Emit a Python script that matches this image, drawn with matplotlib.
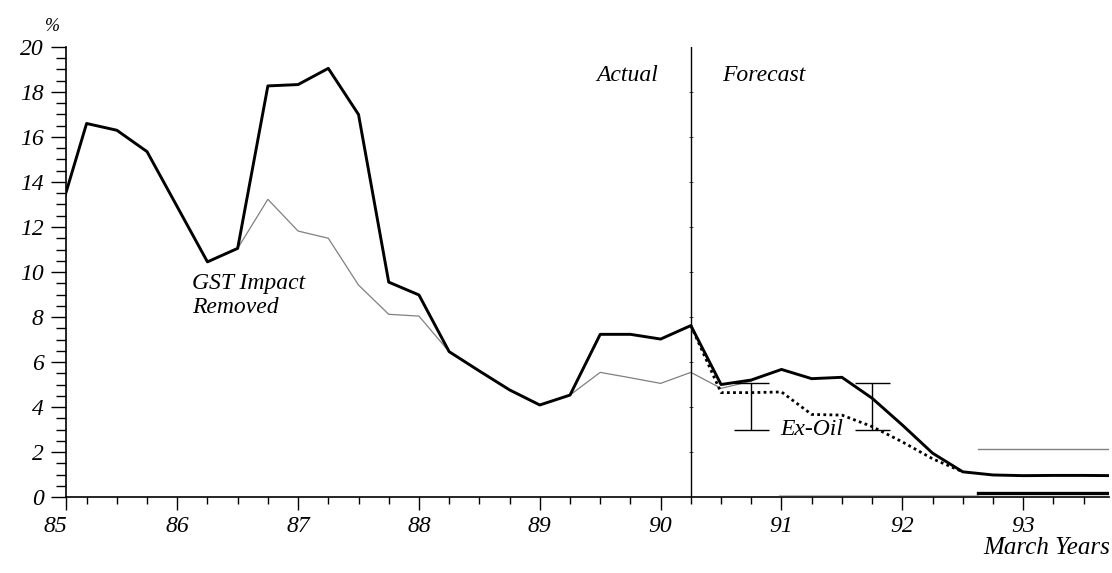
import numpy as np
import matplotlib
matplotlib.use("Agg")
import matplotlib.pyplot as plt
from matplotlib.transforms import ScaledTranslation

plt.rcParams['font.family'] = ['Liberation Serif', 'DejaVu Serif']
plt.rcParams['font.style'] = 'italic'

# quarterly points, March years
quarters = [85.0, 85.25, 85.5, 85.75, 86.0, 86.25, 86.5, 86.75, 87.0, 87.25,
            87.5, 87.75, 88.0, 88.25, 88.5, 88.75, 89.0, 89.25, 89.5, 89.75,
            90.0, 90.25, 90.5, 90.75, 91.0, 91.25, 91.5, 91.75, 92.0, 92.25,
            92.5, 92.75, 93.0, 93.25, 93.5, 93.75]
inflation = [12.1, 16.6, 16.3, 15.35, 12.9, 10.45, 11.05, 18.27, 18.33, 19.05,
             17.0, 9.55, 8.98, 6.46, 5.6, 4.76, 4.09, 4.53, 7.23, 7.23,
             7.02, 7.62, 5.0, 5.2, 5.67, 5.26, 5.32, 4.39, 3.2, 1.95,
             1.12, 0.98, 0.95, 0.96, 0.96, 0.95]

# GST impact removed
gst_x = [86.5, 86.75, 87.0, 87.25, 87.5, 87.75, 88.0, 88.25, 88.5, 88.75,
         89.0, 89.25, 89.5, 89.75, 90.0, 90.25, 90.5, 90.75]
gst_y = [11.05, 13.23, 11.82, 11.5, 9.42, 8.12, 8.04, 6.46, 5.6, 4.76,
         4.09, 4.53, 5.54, 5.3, 5.05, 5.54, 4.83, 5.15]

# ex-oil forecast
exoil_x = [90.25, 90.5, 90.75, 91.0, 91.25, 91.5, 91.75, 92.0, 92.25, 92.5]
exoil_y = [7.62, 4.64, 4.64, 4.67, 3.67, 3.64, 3.13, 2.45, 1.7, 1.12]

# range bars
bar_x = [90.75, 91.75]
bar_lo = [2.98, 2.98]
bar_hi = [5.08, 5.08]

# flat lines at right
flat_x = [92.63, 93.71]
flat_grey = [2.12, 2.12]
flat_black = [0.17, 0.17]
faint_x = [90.98, 92.63]
faint_y = [0.1, 0.1]

split_year = 90.25
years = [85, 86, 87, 88, 89, 90, 91, 92, 93]

fig = plt.figure(figsize=(11.12, 5.73), dpi=100)
ax = fig.add_axes([0.0594, 0.1326, 0.9379, 0.7854])

ax.plot(faint_x, faint_y, color='#bbbbbb', lw=0.8)
ax.plot(gst_x, gst_y, color='#808080', lw=0.9)
ax.plot(exoil_x, exoil_y, color='black', lw=2.0, ls=(0, (1, 1.2)))
ax.plot(quarters, inflation, color='black', lw=2.1)
ax.plot(flat_x, flat_grey, color='#808080', lw=1.0)
ax.plot(flat_x, flat_black, color='black', lw=2.4)

ax.axvline(split_year, color='black', lw=1.0)
ax.plot([split_year] * 9, np.arange(2, 20, 2), ls='none', marker='_',
        color='black', ms=3, mew=0.5)

ax.vlines(bar_x, bar_lo, bar_hi, color='black', lw=1.0)
ax.hlines(bar_lo, np.array(bar_x) - 0.145, np.array(bar_x) + 0.145, color='black', lw=1.0)
ax.hlines(bar_hi, np.array(bar_x) - 0.145, np.array(bar_x) + 0.145, color='black', lw=1.0)

ax.text(86.12, 9.5, 'GST Impact', fontsize=17, va='center', ha='left')
ax.text(86.12, 8.44, 'Removed', fontsize=17, va='center', ha='left')
ax.text(91.25, 2.98, 'Ex-Oil', fontsize=17, va='center', ha='center',
        bbox=dict(facecolor='white', edgecolor='none', pad=1))
ax.text(89.98, 18.75, 'Actual', fontsize=17, va='center', ha='right')
ax.text(90.51, 18.75, 'Forecast', fontsize=17, va='center', ha='left')

ax.set_xlim(85.08, 93.71)
ax.set_ylim(0, 20)

ax.set_xticks([85.08] + years[1:])
ax.set_xticklabels([str(y) for y in years])
ax.set_xticks(np.arange(85.25, 93.75, 0.25), minor=True)
ax.set_yticks(range(0, 21, 2))
ax.set_yticks(np.arange(0, 20.5, 0.5), minor=True)

ax.tick_params(axis='x', which='major', direction='out', length=9, width=1, labelsize=17, pad=5)
ax.tick_params(axis='x', which='minor', direction='out', length=5, width=1)
ax.tick_params(axis='y', which='major', direction='out', length=11, width=1, labelsize=17, pad=5)
ax.tick_params(axis='y', which='minor', direction='out', length=7, width=1)

lab85 = ax.get_xticklabels()[0]
lab85.set_transform(lab85.get_transform() + ScaledTranslation(-0.11, 0, fig.dpi_scale_trans))

for s in ['top', 'right']:
    ax.spines[s].set_visible(False)
for s in ['left', 'bottom']:
    ax.spines[s].set_linewidth(1.2)

fig.text(0.998, 0.044, 'March Years', fontsize=18, ha='right', va='center')
fig.text(0.047, 0.953, '%', fontsize=13, ha='center', va='center')

fig.savefig('out.png', dpi=100, facecolor='white')
